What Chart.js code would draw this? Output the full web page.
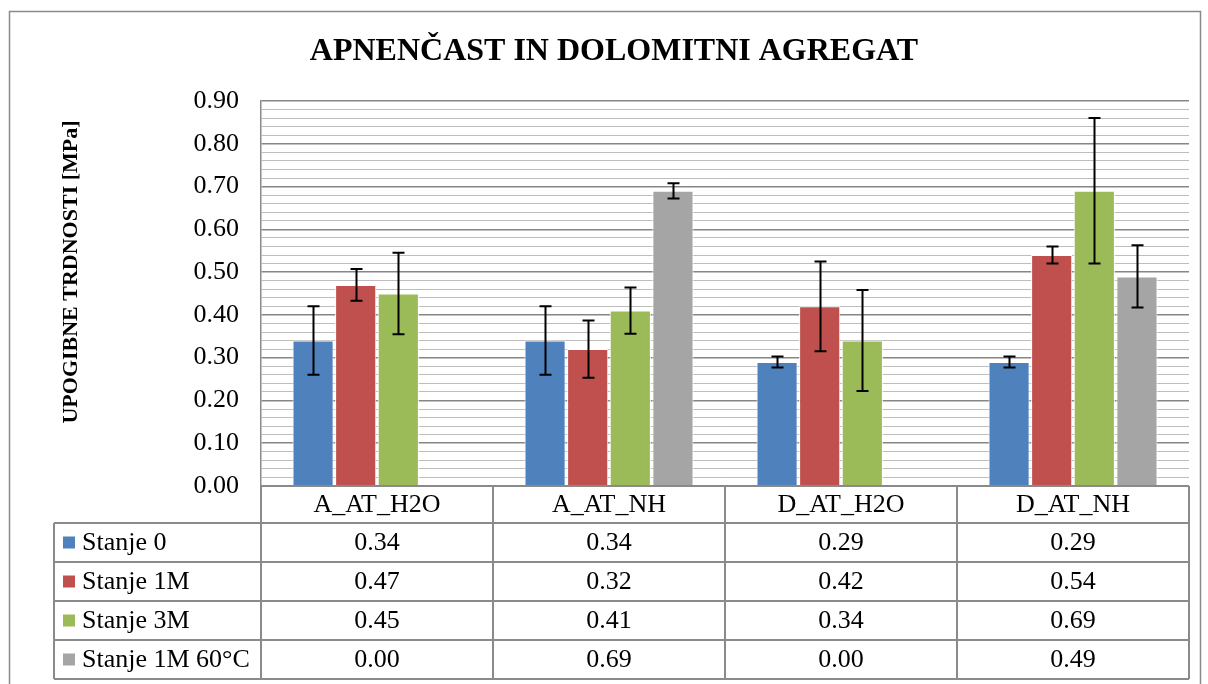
<!DOCTYPE html>
<html>
<head>
<meta charset="utf-8">
<script src="https://cdn.jsdelivr.net/npm/chart.js@4.4.1/dist/chart.umd.min.js"></script>
<style>
  html, body { margin: 0; padding: 0; background: #ffffff; }
  #wrap { width: 1208px; height: 684px; position: relative; }
</style>
</head>
<body>
<div id="wrap"><canvas id="c" width="1208" height="684"></canvas></div>
<script>
const chartTitle = 'APNENČAST IN DOLOMITNI AGREGAT';
const yAxisTitle = 'UPOGIBNE TRDNOSTI [MPa]';
const categories = ['A_AT_H2O', 'A_AT_NH', 'D_AT_H2O', 'D_AT_NH'];
const seriesNames = ['Stanje 0', 'Stanje 1M', 'Stanje 3M', 'Stanje 1M 60°C'];
const stanje0 = [0.34, 0.34, 0.29, 0.29];
const stanje1M = [0.47, 0.32, 0.42, 0.54];
const stanje3M = [0.45, 0.41, 0.34, 0.69];
const stanje1M60 = [0.00, 0.69, 0.00, 0.49];
const err0 = [0.080, 0.080, 0.013, 0.013];
const err1M = [0.037, 0.067, 0.105, 0.020];
const err3M = [0.095, 0.054, 0.118, 0.170];
const err1M60 = [0.000, 0.018, 0.000, 0.073];
const seriesColors = ['#4F81BD', '#C0504D', '#9BBB59', '#A5A5A5'];
const yMin = 0, yMax = 0.9, yMinorStep = 0.02, yMajorStep = 0.1;

const seriesValues = [stanje0, stanje1M, stanje3M, stanje1M60];
const seriesErrors = [err0, err1M, err3M, err1M60];

const FONT = '"Liberation Serif", "Times New Roman", serif';
const isMajor = v => Math.abs(v / yMajorStep - Math.round(v / yMajorStep)) < 1e-6;

const decorPlugin = {
  id: 'decor',
  beforeDraw(chart) {
    const ctx = chart.ctx;
    ctx.save();
    ctx.fillStyle = '#ffffff';
    ctx.fillRect(0, 0, chart.width, chart.height);
    ctx.strokeStyle = '#8a8a8a';
    ctx.lineWidth = 1.5;
    ctx.beginPath();
    ctx.moveTo(9.5, 700);
    ctx.lineTo(9.5, 11.5);
    ctx.lineTo(1200.5, 11.5);
    ctx.lineTo(1200.5, 700);
    ctx.stroke();
    ctx.restore();
  },
  afterDatasetsDraw(chart) {
    const ctx = chart.ctx;
    const yScale = chart.scales.y;
    ctx.save();
    ctx.strokeStyle = '#000000';
    ctx.lineWidth = 2;
    seriesErrors.forEach((errs, di) => {
      const meta = chart.getDatasetMeta(di);
      meta.data.forEach((bar, i) => {
        const v = seriesValues[di][i];
        const e = errs[i];
        if (!e) return;
        const x = Math.round(bar.x) + 0.5;
        const yt = yScale.getPixelForValue(v + e);
        const yb = yScale.getPixelForValue(v - e);
        const cap = 6;
        ctx.beginPath();
        ctx.moveTo(x, yt); ctx.lineTo(x, yb);
        ctx.moveTo(x - cap, yt); ctx.lineTo(x + cap, yt);
        ctx.moveTo(x - cap, yb); ctx.lineTo(x + cap, yb);
        ctx.stroke();
      });
    });
    ctx.restore();
  },
  afterDraw(chart) {
    const ctx = chart.ctx;
    const area = chart.chartArea;
    const xScale = chart.scales.x;
    ctx.save();
    // Title
    ctx.fillStyle = '#000000';
    ctx.font = 'bold 32px ' + FONT;
    ctx.textAlign = 'center';
    ctx.textBaseline = 'middle';
    ctx.fillText(chartTitle, 614, 52);
    // Y axis title
    ctx.save();
    ctx.translate(71, 272);
    ctx.rotate(-Math.PI / 2);
    ctx.font = 'bold 22px ' + FONT;
    ctx.fillText(yAxisTitle, 0, 0);
    ctx.restore();

    // Data table
    const left = area.left, right = area.right;
    const top = area.bottom;
    const headerH = 37;
    const rowH = 39;
    const legendLeft = 54;
    const colW = (right - left) / categories.length;
    const rowsTop = top + headerH;
    const tableBottom = rowsTop + rowH * seriesNames.length;

    ctx.strokeStyle = '#8a8a8a';
    ctx.lineWidth = 2;
    ctx.beginPath();
    ctx.moveTo(left, top); ctx.lineTo(right, top);
    for (let r = 0; r <= seriesNames.length; r++) {
      const y = rowsTop + r * rowH;
      ctx.moveTo(legendLeft, y); ctx.lineTo(right, y);
    }
    for (let c = 0; c <= categories.length; c++) {
      const x = left + c * colW;
      ctx.moveTo(x, top); ctx.lineTo(x, tableBottom);
    }
    ctx.moveTo(legendLeft, rowsTop); ctx.lineTo(legendLeft, tableBottom);
    ctx.stroke();

    ctx.fillStyle = '#000000';
    ctx.font = '26px ' + FONT;
    ctx.textAlign = 'center';
    ctx.textBaseline = 'middle';
    categories.forEach((cat, i) => {
      const cx = xScale.getPixelForValue(i);
      ctx.fillText(cat, cx, top + headerH / 2 + 1);
    });
    seriesNames.forEach((name, r) => {
      const cy = rowsTop + r * rowH + rowH / 2 + 1;
      ctx.fillStyle = seriesColors[r];
      ctx.fillRect(63, cy - 7, 12, 12);
      ctx.fillStyle = '#000000';
      ctx.textAlign = 'left';
      ctx.fillText(name, 82, cy);
      ctx.textAlign = 'center';
      seriesValues[r].forEach((v, i) => {
        const cx = xScale.getPixelForValue(i);
        ctx.fillText(v.toFixed(2), cx, cy);
      });
    });
    ctx.restore();
  }
};

const datasets = seriesNames.map((name, i) => ({
  label: name,
  data: seriesValues[i],
  backgroundColor: seriesColors[i],
  borderColor: '#ffffff',
  borderWidth: 1,
  categoryPercentage: 0.735,
  barPercentage: 0.965
}));

new Chart(document.getElementById('c'), {
  type: 'bar',
  data: { labels: categories, datasets },
  options: {
    responsive: false,
    animation: false,
    events: [],
    layout: { padding: { left: 0, right: 19, top: 101, bottom: 198 } },
    plugins: {
      legend: { display: false },
      title: { display: false },
      tooltip: { enabled: false }
    },
    scales: {
      x: {
        display: false,
        offset: true
      },
      y: {
        min: yMin,
        max: yMax,
        afterFit(scale) { scale.width = 261; },
        border: { display: true, color: '#8a8a8a', width: 1.5 },
        grid: {
          drawTicks: false,
          color: ctx => isMajor(ctx.tick.value) ? '#868686' : '#bdbdbd',
          lineWidth: ctx => isMajor(ctx.tick.value) ? 1.5 : 1
        },
        ticks: {
          stepSize: yMinorStep,
          autoSkip: false,
          padding: 22,
          color: '#000000',
          font: { family: FONT, size: 26 },
          callback: v => isMajor(v) ? Number(v).toFixed(2) : ''
        }
      }
    }
  },
  plugins: [decorPlugin]
});
</script>
</body>
</html>
